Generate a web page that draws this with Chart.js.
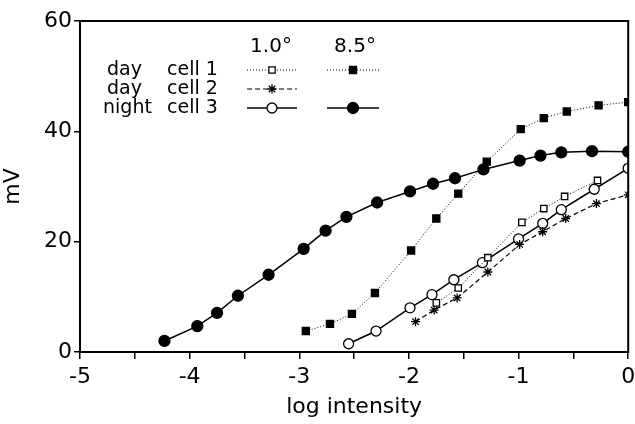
<!DOCTYPE html>
<html lang="en">
<head>
<meta charset="UTF-8">
<title>mV vs log intensity</title>
<script src="https://cdn.jsdelivr.net/npm/chart.js"></script>
<style>
  html, body { margin: 0; padding: 0; background: #fff; }
  canvas { display: block; }
</style>
</head>
<body>
<canvas id="grafico" width="635" height="424"></canvas>
<script>
// night, cell 3, 8.5 deg (filled circles, solid)
var nightCell3HiX = [-4.23, -3.93, -3.75, -3.56, -3.28, -2.96, -2.76, -2.57, -2.29, -1.99, -1.78, -1.58, -1.32, -0.99, -0.80, -0.61, -0.33, 0];
var nightCell3HiY = [2.0, 4.7, 7.1, 10.2, 14.0, 18.7, 22.0, 24.5, 27.1, 29.1, 30.5, 31.5, 33.1, 34.7, 35.6, 36.2, 36.4, 36.3];

// night, cell 3, 1.0 deg (open circles, solid)
var nightCell3LoX = [-2.55, -2.30, -1.99, -1.79, -1.59, -1.33, -1.00, -0.78, -0.61, -0.31, 0];
var nightCell3LoY = [1.5, 3.8, 8.0, 10.4, 13.1, 16.2, 20.5, 23.3, 25.8, 29.5, 33.3];

// day, cell 1, 8.5 deg (filled squares, dotted)
var dayCell1HiX = [-2.94, -2.72, -2.52, -2.31, -1.98, -1.75, -1.55, -1.29, -0.98, -0.77, -0.56, -0.27, 0];
var dayCell1HiY = [3.8, 5.1, 6.9, 10.7, 18.4, 24.2, 28.7, 34.5, 40.4, 42.4, 43.6, 44.7, 45.3];

// day, cell 1, 1.0 deg (open squares, dotted)
var dayCell1LoX = [-1.75, -1.55, -1.28, -0.97, -0.77, -0.58, -0.28];
var dayCell1LoY = [8.9, 11.6, 17.1, 23.5, 26.0, 28.2, 31.1];

// day, cell 2, 1.0 deg (stars, dashed)
var dayCell2LoX = [-1.94, -1.77, -1.56, -1.28, -0.99, -0.78, -0.57, -0.29, 0];
var dayCell2LoY = [5.5, 7.6, 9.8, 14.5, 19.5, 21.8, 24.2, 26.9, 28.5];

var xTicks = [-5, -4, -3, -2, -1, 0];
var yTicks = [0, 20, 40, 60];

var legendRows = ['day', 'day', 'night'];
var legendCells = ['cell 1', 'cell 2', 'cell 3'];
var legendHeads = ['1.0\u00b0', '8.5\u00b0'];

function pontos(xs, ys) {
  return xs.map(function (x, i) { return { x: x, y: ys[i] }; });
}

var FONTE = "'DejaVu Sans', sans-serif";

var estilos = {
  c1lo: { pointStyle: 'rect', pointRadius: 4.5, pointBackgroundColor: '#fff', borderDash: [1, 2], borderWidth: 1 },
  c1hi: { pointStyle: 'rect', pointRadius: 5, pointBackgroundColor: '#000', borderDash: [1, 2], borderWidth: 1 },
  c2lo: { pointStyle: 'star', pointRadius: 4.5, pointBackgroundColor: '#000', borderDash: [5, 3], borderWidth: 1.2 },
  c3lo: { pointStyle: 'circle', pointRadius: 5, pointBackgroundColor: '#fff', borderDash: [], borderWidth: 1.5 },
  c3hi: { pointStyle: 'circle', pointRadius: 5.5, pointBackgroundColor: '#000', borderDash: [], borderWidth: 1.5 }
};

function serie(nome, dados, est) {
  return {
    label: nome,
    data: dados,
    showLine: true,
    tension: 0,
    borderColor: '#000',
    borderWidth: est.borderWidth,
    borderDash: est.borderDash,
    pointStyle: est.pointStyle,
    pointRadius: est.pointRadius,
    pointBackgroundColor: est.pointBackgroundColor,
    pointBorderColor: '#000',
    pointBorderWidth: 1.3
  };
}

// moldura completa e legenda desenhada a mao
var moldura = {
  id: 'moldura',
  afterDraw: function (chart) {
    var ctx = chart.ctx, a = chart.chartArea;
    ctx.save();
    ctx.strokeStyle = '#000';
    ctx.lineWidth = 2;
    ctx.strokeRect(a.left, a.top, a.right - a.left, a.bottom - a.top);

    ctx.fillStyle = '#000';
    ctx.font = '20px ' + FONTE;
    ctx.textBaseline = 'middle';
    ctx.textAlign = 'center';
    ctx.fillText(legendHeads[0], 271, 47);
    ctx.fillText(legendHeads[1], 355, 47);

    var linhas = [
      [estilos.c1lo, estilos.c1hi],
      [estilos.c2lo, null],
      [estilos.c3lo, estilos.c3hi]
    ];
    var cols = [[247, 297], [327, 379]];
    for (var i = 0; i < 3; i++) {
      var y = 70 + i * 19;
      ctx.textAlign = 'left';
      ctx.fillStyle = '#000';
      ctx.font = '19px ' + FONTE;
      ctx.fillText(legendRows[i], i === 2 ? 103 : 107, y);
      ctx.fillText(legendCells[i], 167, y);
      for (var j = 0; j < 2; j++) {
        var est = linhas[i][j];
        if (!est) continue;
        ctx.beginPath();
        ctx.setLineDash(est.borderDash);
        ctx.lineWidth = est.borderWidth;
        ctx.moveTo(cols[j][0], y);
        ctx.lineTo(cols[j][1], y);
        ctx.stroke();
        ctx.setLineDash([]);
        ctx.fillStyle = est.pointBackgroundColor;
        ctx.lineWidth = 1.3;
        Chart.helpers.drawPoint(ctx, { pointStyle: est.pointStyle, radius: est.pointRadius, rotation: 0, borderWidth: 1.3 },
          (cols[j][0] + cols[j][1]) / 2, y);
      }
    }
    ctx.restore();
  }
};

var ctx = document.getElementById('grafico').getContext('2d');
var grafico = new Chart(ctx, {
  type: 'scatter',
  data: {
    datasets: [
      serie('day cell 1 8.5', pontos(dayCell1HiX, dayCell1HiY), estilos.c1hi),
      serie('day cell 1 1.0', pontos(dayCell1LoX, dayCell1LoY), estilos.c1lo),
      serie('day cell 2 1.0', pontos(dayCell2LoX, dayCell2LoY), estilos.c2lo),
      serie('night cell 3 1.0', pontos(nightCell3LoX, nightCell3LoY), estilos.c3lo),
      serie('night cell 3 8.5', pontos(nightCell3HiX, nightCell3HiY), estilos.c3hi)
    ]
  },
  options: {
    responsive: false,
    animation: false,
    layout: { padding: { top: 21, right: 0, left: 0, bottom: 0 } },
    plugins: { legend: { display: false }, tooltip: { enabled: false } },
    scales: {
      x: {
        type: 'linear',
        min: xTicks[0],
        max: xTicks[xTicks.length - 1],
        afterFit: function (s) { s.height = 72; s.paddingRight = 6; },
        border: { display: true, color: '#000', width: 2 },
        grid: { drawOnChartArea: false, drawTicks: true, tickLength: 7, color: '#000', lineWidth: 1.5 },
        ticks: {
          stepSize: 0.5,
          autoSkip: false,
          maxRotation: 0,
          color: '#000',
          padding: 5,
          font: { family: FONTE, size: 22 },
          callback: function (v) { return xTicks.indexOf(v) >= 0 ? String(v) : ''; }
        },
        title: {
          display: true,
          text: 'log intensity',
          color: '#000',
          padding: { top: 4, bottom: 4 },
          font: { family: FONTE, size: 22 }
        }
      },
      y: {
        type: 'linear',
        min: yTicks[0],
        max: yTicks[yTicks.length - 1],
        afterFit: function (s) { s.width = 80; },
        border: { display: true, color: '#000', width: 2 },
        grid: { drawOnChartArea: false, drawTicks: true, tickLength: 6, color: '#000', lineWidth: 1.5 },
        ticks: {
          stepSize: 20,
          color: '#000',
          padding: 2,
          font: { family: FONTE, size: 22 }
        },
        title: {
          display: true,
          text: 'mV',
          color: '#000',
          padding: { top: 0, bottom: 0 },
          font: { family: FONTE, size: 22 }
        }
      }
    }
  },
  plugins: [moldura]
});
</script>
</body>
</html>
